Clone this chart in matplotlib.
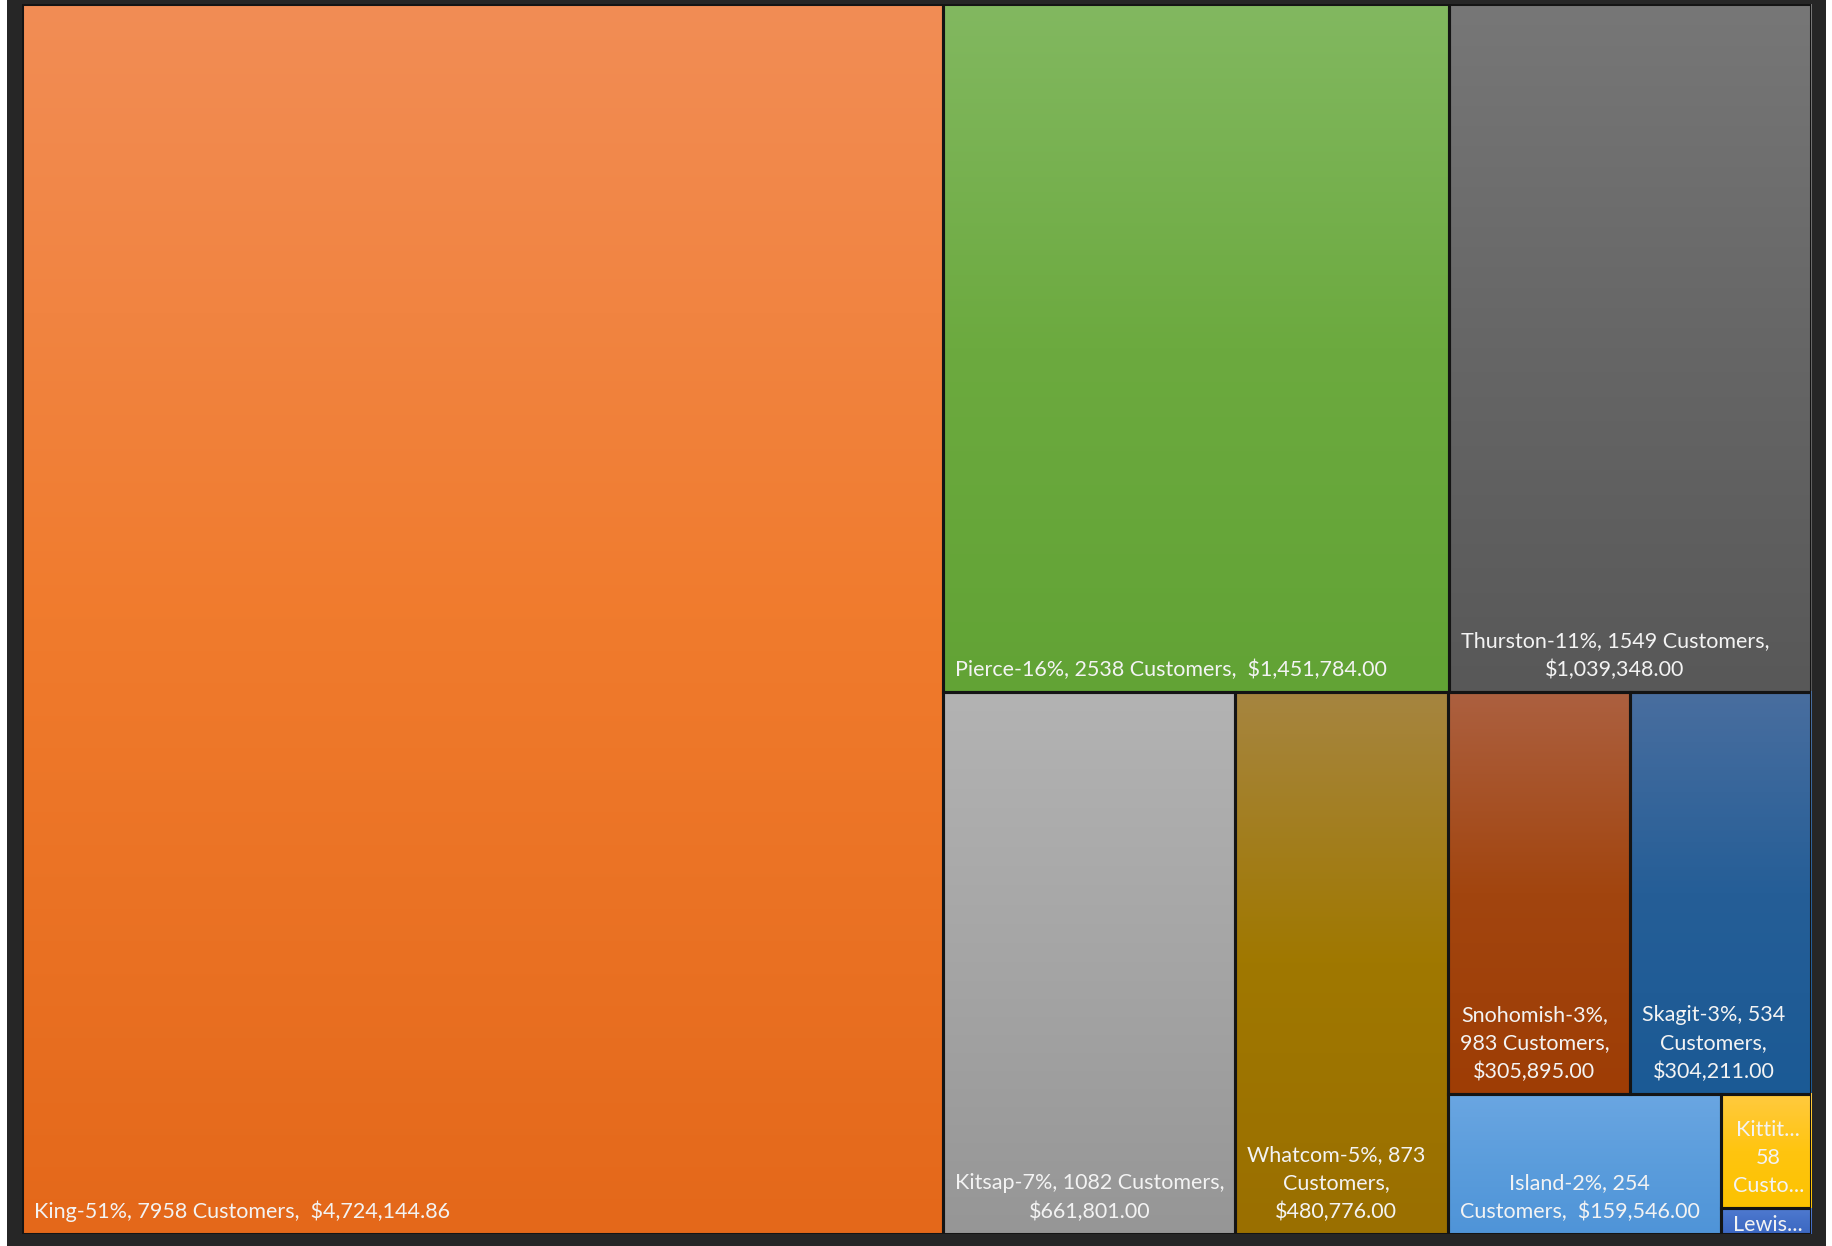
import matplotlib
matplotlib.use("Agg")
import matplotlib.pyplot as plt
import numpy as np
from matplotlib.patches import Rectangle
from matplotlib.colors import to_rgb

# ---------------- data ----------------
counties = ["King", "Pierce", "Thurston", "Kitsap", "Whatcom",
            "Snohomish", "Skagit", "Island", "Kittitas", "Lewis"]
revenue = [4724144.86, 1451784.00, 1039348.00, 661801.00, 480776.00,
           305895.00, 304211.00, 159546.00, 43000.00, 9800.00]
customers = [7958, 2538, 1549, 1082, 873, 983, 534, 254, 58, None]
labels = [
    "King-51%, 7958 Customers,  $4,724,144.86",
    "Pierce-16%, 2538 Customers,  $1,451,784.00",
    "Thurston-11%, 1549 Customers,\n$1,039,348.00",
    "Kitsap-7%, 1082 Customers,\n$661,801.00",
    "Whatcom-5%, 873\nCustomers,\n$480,776.00",
    "Snohomish-3%,\n983 Customers,\n$305,895.00",
    "Skagit-3%, 534\nCustomers,\n$304,211.00",
    "Island-2%, 254\nCustomers,  $159,546.00",
    "Kittit...\n58\nCusto...",
    "Lewis...",
]
# gradient colours per cell: top, middle, bottom
top_colors = ["#F28D55", "#82B860", "#777777", "#B3B3B3", "#A68540",
              "#AC6040", "#496E9F", "#6AA6E2", "#FFCA40", "#4F7AD0"]
mid_colors = ["#F07B2D", "#6CAA3F", "#666666", "#A5A5A5", "#A07800",
              "#A2450F", "#255E97", "#5B9DDC", "#FFC510", "#4470C8"]
bot_colors = ["#E4681A", "#62A335", "#585858", "#969696", "#9A6F00",
              "#9E3D05", "#1B5A95", "#4F94D8", "#FCC200", "#3C68C2"]

# ---------------- layout (squarified, target aspect w/h) ----------------
W, H = 1789.0, 1230.0
TARGET = 0.618


def badness(r):
    return max(r / TARGET, TARGET / r)


def row_worst(areas, length, along_top):
    t = sum(areas) / length
    worst = 0
    for a in areas:
        s = a / t
        r = s / t if along_top else t / s
        worst = max(worst, badness(r))
    return worst


def squarify(areas, x, y, w, h):
    rects = []
    i = 0
    while i < len(areas):
        along_top = w < h
        length = w if along_top else h
        row = [areas[i]]
        j = i + 1
        while j < len(areas) and row_worst(row + [areas[j]], length, along_top) <= row_worst(row, length, along_top):
            row.append(areas[j])
            j += 1
        t = sum(row) / length
        pos = x if along_top else y
        for a in row:
            s = a / t
            if along_top:
                rects.append((pos, y, s, t))
            else:
                rects.append((x, pos, t, s))
            pos += s
        if along_top:
            y += t
            h -= t
        else:
            x += t
            w -= t
        i = j
    return rects


total = sum(revenue)
areas = [v / total * W * H for v in revenue]
rects = squarify(areas, 0.0, 0.0, W, H)

# ---------------- drawing ----------------
FW, FH = 1833, 1246
fig = plt.figure(figsize=(FW / 100, FH / 100), dpi=100)
fig.patch.set_facecolor("white")
fig.patches.append(Rectangle((7 / FW, 0), (1826 - 7) / FW, 1, transform=fig.transFigure,
                             facecolor="#262626", edgecolor="none", zorder=-5))

ax = fig.add_axes([22 / FW, 12 / FH, W / FW, H / FH])
ax.set_axis_off()

N = 256
f = np.linspace(0, 1, N)
for (x, y, w, h), ct, cm, cb, lab in zip(rects, top_colors, mid_colors, bot_colors, labels):
    stops = np.array([to_rgb(ct), to_rgb(cm), to_rgb(cb)])
    grad = np.stack([np.interp(f, [0, 0.5, 1], stops[:, k]) for k in range(3)], axis=1)[:, None, :]
    ax.imshow(grad, extent=(x, x + w, y + h, y), aspect="auto",
              interpolation="bilinear", zorder=1)
    ax.add_patch(Rectangle((x, y), w, h, fill=False, edgecolor="#141414",
                           lw=2.2, zorder=3))
    pad = 12
    nlines = lab.count("\n") + 1
    if h < nlines * 29 + 2 * pad - 6:
        ty, va = y + h / 2 + 4, "center"
    else:
        ty, va = y + h - pad, "bottom"
    t = ax.text(x + pad, ty, lab, ha="left", va=va, multialignment="center",
                color="#F3F3F3", fontsize=15.5, family=["Lato", "DejaVu Sans"],
                linespacing=1.5, zorder=4)
    clip = Rectangle((x, y), w, h, transform=ax.transData)
    t.set_clip_path(clip)

ax.set_xlim(0, W)
ax.set_ylim(H, 0)

fig.savefig("out.png", dpi=100, facecolor=fig.get_facecolor())
